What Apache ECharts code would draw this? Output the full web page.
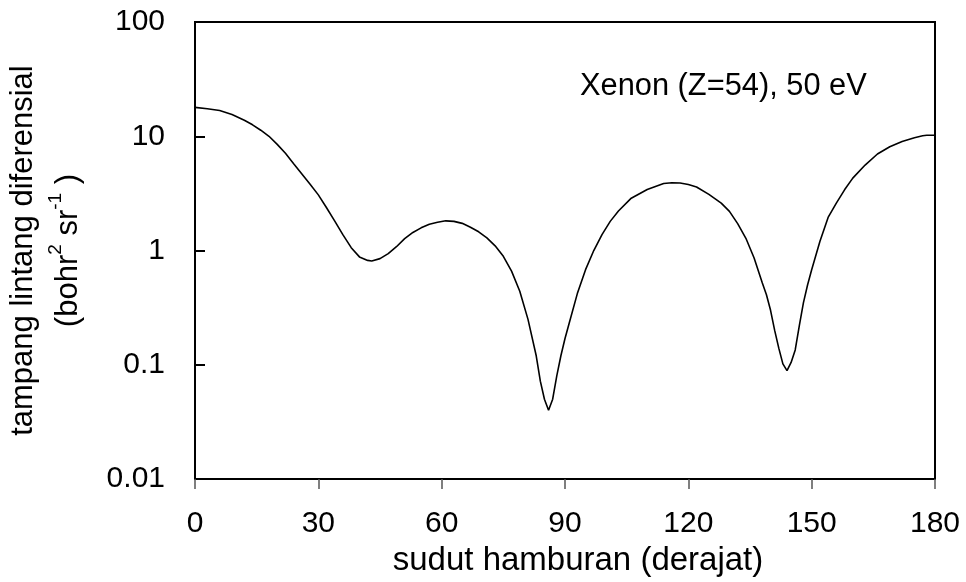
<!DOCTYPE html>
<html>
<head>
<meta charset="utf-8">
<script src="https://cdn.jsdelivr.net/npm/echarts@6/dist/echarts.min.js"></script>
<style>
html,body{margin:0;padding:0;background:#fff;}
#c{width:966px;height:582px;}
</style>
</head>
<body>
<div id="c"></div>
<script>
// scattering angle (degrees)
var angles = [0,3,6,9,12,14,16,18,20,22,24,26,28,30,32,34,36,38,40,42,43,45,47,49,51,53,55,57,59,61,63,65,67,69,71,73,75,77,79,81,83,84,85,86,87,88,89,90,91,93,95,97,99,101,103,106,110,114,116,118,120,122,125,128,130,132,134,136,138,139,140,141,142,143,144,145,146,147,148,149,150,152,154,156,158,160,163,166,169,172,175,177,178,180];
// differential cross section (bohr^2 sr^-1)
var crossSection = [17.9,17.4,16.8,15.5,13.8,12.6,11.3,10.0,8.5,7.1,5.75,4.68,3.8,3.07,2.37,1.81,1.37,1.06,0.88,0.82,0.81,0.85,0.94,1.08,1.27,1.44,1.58,1.70,1.77,1.82,1.80,1.73,1.60,1.46,1.29,1.10,0.89,0.66,0.44,0.25,0.12,0.072,0.050,0.040,0.050,0.080,0.12,0.17,0.23,0.42,0.68,1.0,1.38,1.8,2.22,2.85,3.42,3.86,3.92,3.9,3.78,3.6,3.1,2.6,2.2,1.72,1.28,0.86,0.52,0.41,0.30,0.20,0.14,0.102,0.089,0.105,0.135,0.22,0.35,0.50,0.68,1.2,1.95,2.6,3.4,4.3,5.6,7.0,8.1,9.0,9.7,10.1,10.2,10.2];
var xTickLabels = ['0','30','60','90','120','150','180'];
var yTickLabels = ['0.01','0.1','1','10','100'];
var annotation = 'Xenon (Z=54), 50 eV';

var data = angles.map(function(a,i){return [a, crossSection[i]];});
var FONT = 'Liberation Sans, Arial, sans-serif';

var chart = echarts.init(document.getElementById('c'), null, {renderer:'canvas'});
chart.setOption({
  animation:false,
  backgroundColor:'#fff',
  grid:{left:192,right:31,top:22,bottom:102,show:true,borderColor:'#000',borderWidth:2,backgroundColor:'transparent'},
  xAxis:{
    type:'value',min:0,max:180,interval:30,
    name:'sudut hamburan (derajat)',nameLocation:'middle',nameGap:64,
    nameTextStyle:{fontFamily:FONT,fontSize:33,color:'#000',padding:[0,0,0,26]},
    axisLine:{show:true,onZero:false,lineStyle:{color:'#000',width:2}},
    axisTick:{show:true,inside:false,length:10,lineStyle:{color:'#555',width:1.5}},
    axisLabel:{margin:30,fontFamily:FONT,fontSize:30,color:'#000',
      formatter:function(v){return xTickLabels[Math.round(v/30)];}},
    splitLine:{show:false}
  },
  yAxis:{
    type:'log',logBase:10,min:0.01,max:100,
    name:'{a|tampang lintang diferensial}\n{a|(bohr}{s|2}{a| sr}{s|-1}{a| )}',
    nameLocation:'middle',nameGap:104,
    nameTextStyle:{fontFamily:FONT,fontSize:31,color:'#000',
      rich:{
        a:{fontFamily:FONT,fontSize:31,color:'#000',lineHeight:45},
        s:{fontFamily:FONT,fontSize:19,color:'#000',lineHeight:14,verticalAlign:'top'}
      }},
    axisLine:{show:true,lineStyle:{color:'#000',width:2}},
    axisTick:{show:true,inside:true,length:10,lineStyle:{color:'#000',width:2}},
    minorTick:{show:false},
    axisLabel:{margin:30,fontFamily:FONT,fontSize:30,color:'#000',
      formatter:function(v){return yTickLabels[Math.round(Math.log10(v))+2];}},
    splitLine:{show:false}
  },
  graphic:[{
    type:'text',left:580,top:71,
    style:{text:annotation,fontFamily:FONT,fontSize:30.8,fill:'#000'}
  }],
  series:[{
    type:'line',data:data,showSymbol:false,symbol:'none',smooth:false,
    lineStyle:{color:'#000',width:1.6}
  }]
});
</script>
</body>
</html>
